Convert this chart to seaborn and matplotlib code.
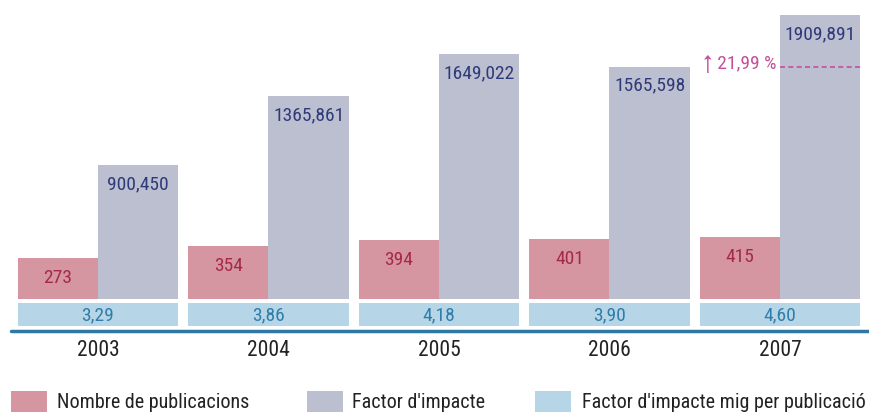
import numpy as np
import pandas as pd
import matplotlib.pyplot as plt
from matplotlib.patches import Rectangle
import seaborn as sns

years = ['2003', '2004', '2005', '2006', '2007']
publicacions = [273, 354, 394, 401, 415]
factor_impacte = [900.450, 1365.861, 1649.022, 1565.598, 1909.891]
factor_mig = [3.29, 3.86, 4.18, 3.90, 4.60]
increment_label = '↑ 21,99 %'
legend_labels = ['Nombre de publicacions', "Factor d'impacte", "Factor d'impacte mig per publicació"]

PINK = '#d596a1'
GREY = '#bcbfcf'
BLUE = '#b6d6e7'
PINK_TXT = '#a52a46'
GREY_TXT = '#2e3a7a'
BLUE_TXT = '#2f7daa'
AXIS = '#2d78a5'
MAGENTA = '#c4509a'


def fmt(v, dec):
    return f'{v:.{dec}f}'.replace('.', ',')


sns.set_style('white')
plt.rcParams['font.family'] = ['Roboto Condensed', 'Archivo Narrow', 'DejaVu Sans']

df = pd.DataFrame({
    'any': years * 2,
    'valor': publicacions + factor_impacte,
    'serie': [legend_labels[0]] * 5 + [legend_labels[1]] * 5,
})

fig = plt.figure(figsize=(8.69, 4.14), dpi=100)
ax = fig.add_axes([0, 0, 1, 1])

sns.barplot(data=df, x='any', y='valor', hue='serie', palette=[PINK, GREY],
            width=0.94, linewidth=0, saturation=1, legend=False, ax=ax)

# pixel -> data unit helper (vertical)
px = 1 / 0.14818
x = np.arange(len(years))

# blue strip with the mean impact factor
ax.bar(x, 22.7 * px, bottom=-(304 - 299.5) * px - 22.7 * px, width=0.94,
       color=BLUE, linewidth=0)

for i in range(len(years)):
    ax.text(i - 0.235, publicacions[i] - 19 * px, str(publicacions[i]),
            ha='center', va='center', fontsize=14, color=PINK_TXT)
    ax.text(i + 0.235, factor_impacte[i] - 18 * px, fmt(factor_impacte[i], 3),
            ha='center', va='center', fontsize=14, color=GREY_TXT)
    ax.text(i, -15.8 * px, fmt(factor_mig[i], 2),
            ha='center', va='center', fontsize=14, color=BLUE_TXT)
    ax.text(i, -51 * px, years[i], ha='center', va='center',
            fontsize=15.5, color='#222222')

# increment 2006 -> 2007
ax.hlines(factor_impacte[3], 4.0, 4.47, colors=MAGENTA, linestyles=(0, (3, 2)), linewidth=1.2)
ax.text(3.98, factor_impacte[3] + 4 * px, increment_label, ha='right', va='center',
        fontsize=14, color=MAGENTA)

ax.axhline(-32 * px, xmin=11 / 869, xmax=1, color=AXIS, linewidth=2.5)

ax.set_xlim(-98 / 170.5, (869 - 98) / 170.5)
ax.set_ylim(-(414 - 299.5) * px, 299.5 * px)
ax.axis('off')

# legend drawn by hand
leg_x = [11, 307, 535]
txt_x = [57, 352, 582]
for lx, tx, col, lab in zip(leg_x, txt_x, [PINK, GREY, BLUE], legend_labels):
    fig.add_artist(Rectangle((lx / 869, 1 / 414), 36 / 869, 21 / 414,
                             transform=fig.transFigure, color=col, linewidth=0))
    fig.text(tx / 869, 1 - 403 / 414, lab, ha='left', va='center',
             fontsize=14.5, color='#222222')

fig.savefig('out.png', dpi=100)
